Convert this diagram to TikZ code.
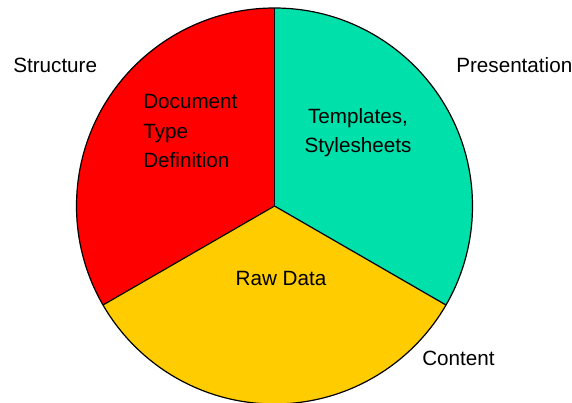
\documentclass[tikz,border=0pt]{standalone}
\usepackage{fontspec}
\setmainfont{Liberation Sans}
\definecolor{pieRed}{RGB}{255,0,0}
\definecolor{pieGreen}{RGB}{0,224,170}
\definecolor{pieYellow}{RGB}{255,204,0}
\begin{document}
\begin{tikzpicture}[
            x=0.75pt, y=-0.75pt,
            sector/.style={draw=black, line width=0.9pt, line join=round},
            label/.style={font=\fontsize{15.5}{22.5}\selectfont, inner sep=0pt}
        ]
        \useasboundingbox (0,0) rectangle (572,403);
        \coordinate (c) at (274.5,206);
        \fill[pieRed] (c) -- ++(-90:198) arc[start angle=-90, end angle=-210, radius=198] -- cycle;
        \fill[pieGreen] (c) -- ++(-90:198) arc[start angle=-90, end angle=30, radius=198] -- cycle;
        \fill[pieYellow] (c) -- ++(150:198) arc[start angle=150, end angle=30, radius=198] -- cycle;
        \draw[sector] (c) circle[radius=198];
        \draw[sector] (c) -- ++(0,-198);
        \draw[sector] (c) -- ++(150:198);
        \draw[sector] (c) -- ++(30:198);
        \node[label, anchor=base west] (structure) at (13,73) {Structure};
        \node[label, anchor=base west] (presentation) at (456,73) {Presentation};
        \node[label, anchor=base west] (content) at (422,365) {Content};
        % multi-line labels: base is the last line
        \node[label, anchor=base west, align=left] (dtd) at (143,168)
            {Document\\Type\\Definition};
        \node[label, anchor=base, align=center] (templates) at (358,153)
            {Templates,\\Stylesheets};
        \node[label, anchor=base] (rawdata) at (281,285) {Raw Data};
    \end{tikzpicture}
\end{document}
